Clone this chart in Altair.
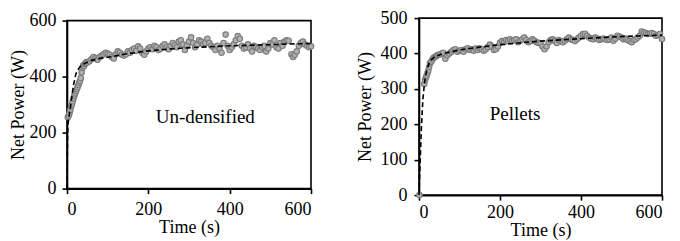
import altair as alt
import pandas as pd

# ---------------- Un-densified ----------------
und_t = [2, 4, 6, 8, 10, 12, 14, 16, 18, 20, 22, 24, 26, 28, 30, 32, 34, 36, 38, 40,
         42, 44, 46, 48, 50, 55, 60, 65, 70, 75, 80, 85, 90, 95, 100, 105, 110, 115,
         120, 125, 130, 135, 140, 145, 150, 155, 160, 165, 170, 175, 180, 185, 190,
         195, 200, 205, 210, 215, 220, 225, 230, 235, 240, 245, 250, 255, 260, 265,
         270, 275, 280, 285, 290, 295, 300, 305, 310, 315, 320, 325, 330, 335, 340,
         345, 350, 355, 360, 365, 370, 375, 380, 385, 390, 395, 400, 405, 410, 415,
         420, 425, 430, 435, 440, 445, 450, 455, 460, 465, 470, 475, 480, 485, 490,
         495, 500, 505, 510, 515, 520, 525, 530, 535, 540, 545, 552, 556, 560, 565,
         570, 575, 580, 585, 590, 595, 600]
und_p = [255, 260, 268, 280, 292, 300, 312, 322, 332, 340, 348, 355, 362, 370, 378,
         385, 395, 415, 432, 440, 438, 445, 448, 452, 450, 455, 462, 470, 465, 460,
         470, 475, 480, 485, 482, 478, 470, 465, 480, 490, 485, 478, 475, 480, 490,
         485, 495, 500, 492, 508, 500, 485, 478, 490, 500, 505, 498, 510, 505, 495,
         500, 510, 515, 505, 498, 510, 520, 512, 505, 525, 530, 515, 495, 510, 525,
         540, 520, 505, 515, 530, 525, 515, 520, 535, 520, 510, 505, 495, 510, 500,
         485, 520, 550, 510, 495, 505, 515, 530, 545, 535, 510, 500, 505, 515, 500,
         490, 510, 505, 500, 495, 505, 510, 490, 500, 520, 515, 530, 505, 500, 520,
         510, 525, 530, 528, 480, 470, 478, 490, 510, 520, 525, 515, 510, 505, 508]
und_fit_t = [0, 0.5, 1, 1.5, 2, 3, 5, 8, 12, 16, 22, 30, 40, 60, 80, 104, 150, 200,
             284, 400, 500, 563, 600]
und_fit_p = [0, 70, 140, 195, 215, 235, 258, 285, 330, 370, 410, 432, 445, 458, 465,
             470, 482, 492, 502, 510, 514, 517, 518]

# ---------------- Pellets ----------------
pel_t = [1, 13, 15, 17, 19, 21, 23, 25, 27, 30, 33, 36, 39, 42, 45, 48, 52, 56, 60,
         65, 70, 75, 80, 85, 90, 95, 100, 105, 110, 115, 120, 125, 130, 135, 140, 145,
         150, 155, 160, 165, 170, 175, 180, 185, 190, 195, 200, 205, 210, 215, 220,
         225, 230, 235, 240, 245, 250, 255, 260, 265, 270, 275, 280, 285, 290, 295,
         300, 305, 310, 315, 320, 325, 330, 335, 340, 345, 350, 355, 360, 365, 370,
         375, 380, 385, 390, 395, 400, 405, 410, 415, 420, 425, 430, 435, 440, 445,
         450, 455, 460, 465, 470, 475, 480, 485, 490, 495, 500, 505, 510, 515, 520,
         525, 530, 535, 540, 545, 550, 555, 560, 565, 570, 575, 580, 585, 590, 595,
         600]
pel_p = [0, 314, 325, 332, 338, 345, 352, 362, 372, 377, 383, 388, 390, 392, 395,
         396, 398, 400, 402, 385, 395, 400, 405, 410, 412, 405, 408, 410, 405, 412,
         415, 410, 412, 408, 414, 410, 415, 412, 408, 412, 418, 425, 420, 410, 412,
         420, 430, 435, 432, 438, 436, 440, 435, 438, 440, 432, 436, 440, 445, 438,
         432, 435, 440, 436, 432, 430, 428, 420, 412, 420, 432, 438, 440, 435, 430,
         438, 435, 432, 436, 440, 445, 440, 438, 435, 440, 445, 450, 455, 456, 450,
         445, 442, 440, 445, 442, 438, 440, 442, 440, 438, 440, 445, 436, 442, 450,
         448, 445, 440, 442, 438, 435, 432, 438, 440, 445, 450, 462, 460, 458, 455,
         456, 458, 455, 450, 452, 455, 441]
pel_fit_t = [0, 2, 4, 6, 8, 10, 13, 16, 20, 25, 30, 40, 60, 100, 150, 200, 300, 400,
             500, 600]
pel_fit_p = [0, 70, 130, 190, 240, 275, 310, 335, 355, 372, 382, 392, 400, 410, 418,
             425, 435, 442, 448, 452]

labels = ["Un-densified", "Pellets"]
label_t = [340, 237]
label_p = [255, 229]

FONT = "Liberation Serif"


def panel(t, p, ft, fp, ymax, ystep, label, lt, lp, w, h, xlp, ylp, ytp):
    pts = pd.DataFrame({"t": t, "p": p})
    fit = pd.DataFrame({"t": ft, "p": fp})
    lab = pd.DataFrame({"t": [lt], "p": [lp], "s": [label]})
    x = alt.X("t:Q", title="Time (s)",
              scale=alt.Scale(domain=[0, 600], nice=False),
              axis=alt.Axis(values=[0, 200, 400, 600], labelPadding=xlp,
                            titlePadding=0, labelOverlap=False))
    y = alt.Y("p:Q", title="Net Power (W)",
              scale=alt.Scale(domain=[0, ymax], nice=False),
              axis=alt.Axis(values=list(range(0, ymax + 1, ystep)),
                            labelPadding=ylp, titlePadding=ytp,
                            labelOverlap=False))
    sc = alt.Chart(pts).mark_point(shape="circle", size=30, filled=False,
                                   stroke="#7a7a7a", fill="#b0b0b0",
                                   fillOpacity=1, strokeWidth=1.1,
                                   opacity=1).encode(x=x, y=y)
    ln = alt.Chart(fit).mark_line(color="black", strokeWidth=1.6,
                                  strokeDash=[5, 3]).encode(x=x, y=y)
    tx = alt.Chart(lab).mark_text(font=FONT, fontSize=19, color="black").encode(
        x=x, y=y, text="s:N")
    return alt.layer(sc, ln, tx).properties(width=w, height=h)


left = panel(und_t, und_p, und_fit_t, und_fit_p, 600, 200, labels[0],
             label_t[0], label_p[0], 244, 168, 7, 6, 2)
right = panel(pel_t, pel_p, pel_fit_t, pel_fit_p, 500, 100, labels[1],
              label_t[1], label_p[1], 243, 177, 3, 7, 6)

chart = alt.hconcat(left, right, spacing=38, center=True).properties(
    padding={"left": 0, "top": 0, "right": 0, "bottom": 0}
).configure_view(stroke="black", strokeWidth=1.6).configure_axis(
    labelFont=FONT, titleFont=FONT, labelFontSize=18, titleFontSize=18,
    labelColor="black", titleColor="black", titleFontWeight="normal",
    domainColor="black", tickColor="black", domainWidth=1.6, tickWidth=1.6,
    tickSize=5, grid=False
)

chart.save("out.html", embed_options={"renderer": "svg", "actions": False})
